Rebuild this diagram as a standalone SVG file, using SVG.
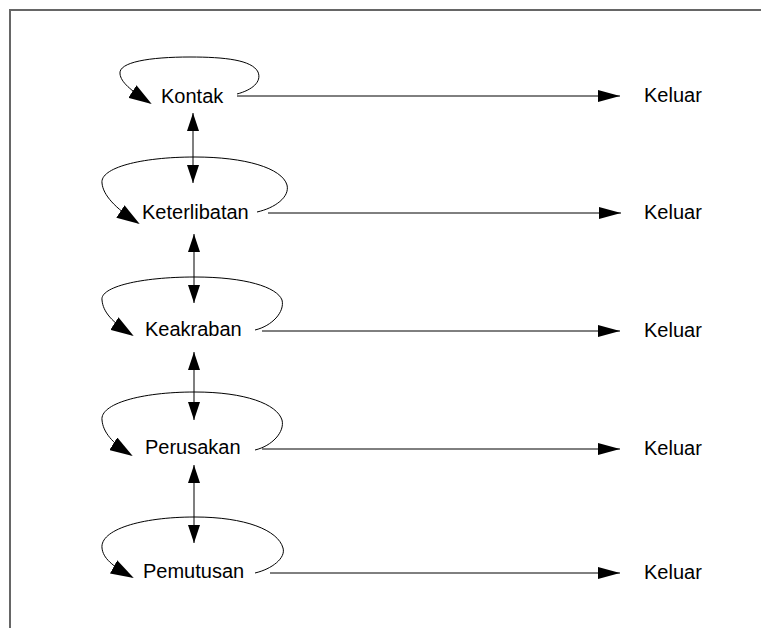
<svg xmlns="http://www.w3.org/2000/svg" width="761" height="628" viewBox="0 0 761 628">
<defs>
<marker id="ah" markerWidth="22" markerHeight="12" refX="22" refY="6" orient="auto" markerUnits="userSpaceOnUse"><path d="M0,0 L22,6 L0,12 Z" fill="#000"/></marker>
<marker id="av" markerWidth="18" markerHeight="12" refX="18" refY="6" orient="auto" markerUnits="userSpaceOnUse"><path d="M0,0 L18,6 L0,12 Z" fill="#000"/></marker>
<marker id="al" markerWidth="23" markerHeight="15" refX="21" refY="7.5" orient="auto" markerUnits="userSpaceOnUse"><path d="M0,0 L23,7.5 L0,15 Z" fill="#000"/></marker>
</defs>
<style>
.t{font-family:"Liberation Sans",Arial,sans-serif;font-size:20px;fill:#000}
.c{fill:none;stroke:#000;stroke-width:1}
.g{fill:none;stroke:#555;stroke-width:1.5}
</style>
<rect width="761" height="628" fill="#fff"/>
<path d="M10,628 L10,10 L761,10" fill="none" stroke="#666" stroke-width="2"/>
<g id="connectors">
<path class="c" d="M237,96 L620,96" marker-end="url(#ah)"/>
<path class="c" d="M268,213 L621,213" marker-end="url(#ah)"/>
<path class="c" d="M262,331 L620,331" marker-end="url(#ah)"/>
<path class="c" d="M262,449 L620,449" marker-end="url(#ah)"/>
<path class="c" d="M270,573 L620,573" marker-end="url(#ah)"/>
<path class="g" d="M193,147 L193,113" marker-end="url(#av)"/>
<path class="g" d="M193,147 L193,183" marker-end="url(#av)"/>
<path class="g" d="M194,268 L194,234" marker-end="url(#av)"/>
<path class="g" d="M194,268 L194,303" marker-end="url(#av)"/>
<path class="g" d="M194,386 L194,352" marker-end="url(#av)"/>
<path class="g" d="M194,386 L194,420" marker-end="url(#av)"/>
<path class="g" d="M194,504 L194,465" marker-end="url(#av)"/>
<path class="g" d="M194,504 L194,543" marker-end="url(#av)"/>
<path class="c" d="M237,94 C252,90 262,82 258,72 C252,60 225,57 190,57 C150,57 118,62 120,74 C121,82 130,90 150,103" marker-end="url(#al)"/>
<path class="c" d="M257,212 C275,208 290,197 287,185 C282,168 245,157 195,157 C140,157 100,168 102,183 C103,195 115,208 138,223" marker-end="url(#al)"/>
<path class="c" d="M255,330 C272,326 285,312 282,300 C277,287 245,277 195,277 C140,277 100,287 102,300 C103,312 112,322 132,335" marker-end="url(#al)"/>
<path class="c" d="M255,450 C272,446 285,432 282,420 C277,404 245,392 195,392 C140,392 100,404 102,420 C103,432 112,443 131,455" marker-end="url(#al)"/>
<path class="c" d="M255,573 C272,569 286,558 283,548 C278,530 245,517 195,517 C140,517 100,530 102,548 C103,558 112,566 132,577" marker-end="url(#al)"/>
</g>
<g id="kontak"><text class="t" x="161" y="103">Kontak</text></g>
<g id="keterlibatan"><text class="t" x="142" y="219">Keterlibatan</text></g>
<g id="keakraban"><text class="t" x="145" y="336">Keakraban</text></g>
<g id="perusakan"><text class="t" x="145" y="454">Perusakan</text></g>
<g id="pemutusan"><text class="t" x="143" y="578">Pemutusan</text></g>
<g id="keluar1"><text class="t" x="644" y="102">Keluar</text></g>
<g id="keluar2"><text class="t" x="644" y="219">Keluar</text></g>
<g id="keluar3"><text class="t" x="644" y="337">Keluar</text></g>
<g id="keluar4"><text class="t" x="644" y="455">Keluar</text></g>
<g id="keluar5"><text class="t" x="644" y="579">Keluar</text></g>
</svg>
